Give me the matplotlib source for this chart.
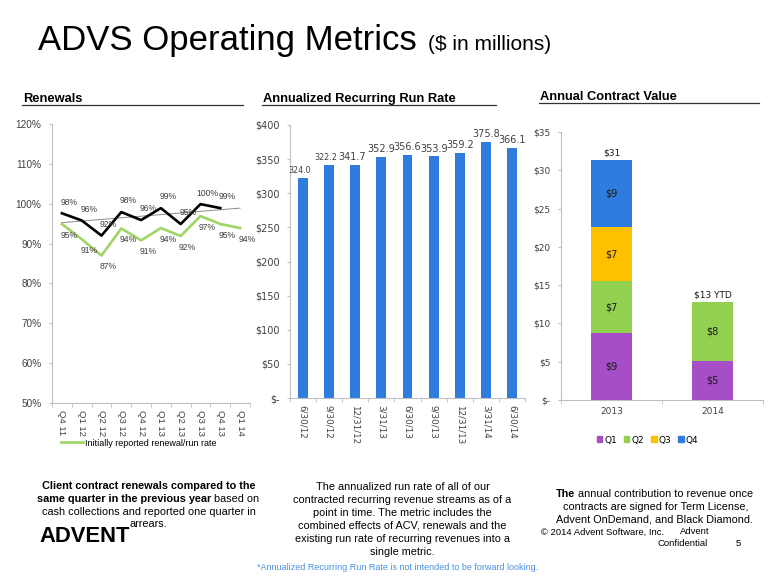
import matplotlib.pyplot as plt
import numpy as np
from matplotlib.lines import Line2D
from matplotlib.patches import Patch

plt.rcParams['font.family'] = ['Liberation Sans', 'DejaVu Sans']

# Renewals
quarters = ['Q4 11', 'Q1 12', 'Q2 12', 'Q3 12', 'Q4 12', 'Q1 13', 'Q2 13', 'Q3 13', 'Q4 13', 'Q1 14']
renewal_rate = [97.6, 95.8, 92.0, 97.9, 95.9, 98.9, 94.9, 99.9, 98.9]
renewal_labels = ['98%', '96%', '92%', '98%', '96%', '99%', '95%', '100%', '99%']
initial_rate = [94.9, 91.1, 87.0, 93.8, 90.8, 93.9, 91.9, 96.9, 94.9, 93.9]
initial_labels = ['95%', '91%', '87%', '94%', '91%', '94%', '92%', '97%', '95%', '94%']

# Annualized recurring run rate
run_dates = ['6/30/12', '9/30/12', '12/31/12', '3/31/13', '6/30/13', '9/30/13', '12/31/13', '3/31/14', '6/30/14']
run_rate = [322.2, 341.7, 341.7, 352.9, 356.6, 353.9, 359.2, 375.8, 366.1]
run_labels = ['324.0', '322.2', '341.7', '352.9', '356.6', '353.9', '359.2', '375.8', '366.1']

# Annual contract value
acv_years = ['2013', '2014']
acv_quarters = ['Q1', 'Q2', 'Q3', 'Q4']
acv_q1 = [8.7, 5.1]
acv_q2 = [6.8, 7.7]
acv_q3 = [7.1, 0.0]
acv_q4 = [8.7, 0.0]
acv_suffix = ['', ' YTD']

W, H = 780, 585
GRAY = '#404040'
SPINE = '#BFBFBF'
BLUE = '#2E7DDE'


def fx(x):
    return x / W


def fy(y):
    return 1 - y / H


def style_axes(ax):
    for s in ['top', 'right']:
        ax.spines[s].set_visible(False)
    for s in ['left', 'bottom']:
        ax.spines[s].set_color(SPINE)
        ax.spines[s].set_linewidth(0.8)
    ax.tick_params(axis='y', colors=SPINE, length=2.5, labelcolor=GRAY)
    ax.tick_params(axis='x', which='major', length=0, labelcolor=GRAY)
    ax.tick_params(axis='x', which='minor', length=3, color=SPINE)


fig = plt.figure(figsize=(7.8, 5.85), dpi=100)

# title
fig.text(fx(38), fy(50), 'ADVS Operating Metrics', fontsize=25, va='baseline')
fig.text(fx(428), fy(50), '($ in millions)', fontsize=15, va='baseline')

# section headers with underline
headers = [('Renewals', 23, 99, 243), ('Annualized Recurring Run Rate', 263, 99, 496),
           ('Annual Contract Value', 540, 97, 759)]
for txt, x0, yc, x1 in headers:
    fig.text(fx(x0), fy(yc), txt, fontsize=9.3, fontweight='bold', va='center')
    fig.add_artist(Line2D([fx(x0 - 1), fx(x1)], [fy(yc + 5.5)] * 2, color='#333333', lw=0.9))

# ---- Renewals line chart
ax1 = fig.add_axes([fx(52), fy(403), 198 / W, 279 / H])
x = np.arange(len(quarters))
xr = x[:len(renewal_rate)]
coef = np.polyfit(xr, renewal_rate, 1)
ax1.plot(x, np.polyval(coef, x), color='#8C8C8C', lw=0.7, zorder=2)
ax1.plot(xr, renewal_rate, color='black', lw=1.9, zorder=3)
green, = ax1.plot(x, initial_rate, color='#9FD466', lw=1.9, zorder=3,
                  label='Initially reported renewal/run rate')
for i, (v, t) in enumerate(zip(renewal_rate, renewal_labels)):
    ax1.annotate(t, (i, v), xytext=(5, 8), textcoords='offset points', ha='center', va='center',
                 fontsize=6.2, color=GRAY)
for i, (v, t) in enumerate(zip(initial_rate, initial_labels)):
    ax1.annotate(t, (i, v), xytext=(5, -8), textcoords='offset points', ha='center', va='center',
                 fontsize=6.2, color=GRAY)
ax1.set_xlim(-0.5, len(quarters) - 0.5)
ax1.set_ylim(50, 120)
ax1.set_yticks(range(50, 121, 10))
ax1.set_yticklabels([f'{v}%' for v in range(50, 121, 10)], fontsize=7.2)
ax1.set_xticks(x)
ax1.set_xticklabels(quarters, rotation=270, fontsize=6.8)
ax1.set_xticks(np.arange(-0.5, len(quarters)), minor=True)
style_axes(ax1)
ax1.tick_params(axis='y', pad=5)
ax1.tick_params(axis='x', which='major', pad=5)
ax1.legend(handles=[green], loc='center left', bbox_to_anchor=(fx(61), fy(443)),
           bbox_transform=fig.transFigure, frameon=False, fontsize=6.5, borderpad=0,
           borderaxespad=0, handlelength=2.4, handletextpad=0.3)

# ---- Run rate bar chart
ax2 = fig.add_axes([fx(289.6), fy(398), 235.8 / W, 273 / H])
xb = np.arange(len(run_dates))
ax2.bar(xb, run_rate, width=0.38, color=BLUE)
for i, (v, t) in enumerate(zip(run_rate, run_labels)):
    ax2.annotate(t, (i, v), xytext=(-2 if i < 3 else 0, 2), textcoords='offset points',
                 ha='center', va='bottom', fontsize=5.8 if i < 2 else 7,
                 color=GRAY, family='DejaVu Sans')
ax2.set_xlim(-0.5, len(run_dates) - 0.5)
ax2.set_ylim(0, 400)
ax2.set_yticks(range(0, 401, 50))
ax2.set_yticklabels(['$-'] + [f'${v}' for v in range(50, 401, 50)], fontsize=7, family='DejaVu Sans')
ax2.set_xticks(xb)
ax2.set_xticklabels(run_dates, rotation=270, fontsize=6.3, family='DejaVu Sans')
ax2.set_xticks(np.arange(-0.5, len(run_dates)), minor=True)
style_axes(ax2)
ax2.tick_params(axis='y', pad=4.5)
ax2.tick_params(axis='x', which='major', pad=5)

# ---- ACV stacked bar chart
ax3 = fig.add_axes([fx(561), fy(400), 202 / W, 268 / H])
xa = np.arange(len(acv_years))
bottom = np.zeros(len(acv_years))
colors = ['#A64DC8', '#92D050', '#FFC000', BLUE]
for vals, col, name in zip([acv_q1, acv_q2, acv_q3, acv_q4], colors, acv_quarters):
    vals = np.array(vals)
    ax3.bar(xa, vals, width=0.4, bottom=bottom, color=col, label=name)
    for i, v in enumerate(vals):
        if v > 0:
            ax3.text(i, bottom[i] + v / 2, f'${round(v)}', ha='center', va='center',
                     fontsize=7, color='#1A1A1A', family='DejaVu Sans')
    bottom += vals
for i, tot in enumerate(bottom):
    ax3.annotate(f'${round(tot)}{acv_suffix[i]}', (i, tot), xytext=(0, 2), textcoords='offset points',
                 ha='center', va='bottom', fontsize=6.5, color='#1A1A1A', family='DejaVu Sans')
ax3.set_xlim(-0.5, len(acv_years) - 0.5)
ax3.set_ylim(0, 35)
ax3.set_yticks(range(0, 36, 5))
ax3.set_yticklabels(['$-'] + [f'${v}' for v in range(5, 36, 5)], fontsize=6.5, family='DejaVu Sans')
ax3.set_xticks(xa)
ax3.set_xticklabels(acv_years, fontsize=6.5, family='DejaVu Sans')
ax3.set_xticks(np.arange(-0.5, len(acv_years)), minor=True)
style_axes(ax3)
ax3.tick_params(axis='y', pad=5)
ax3.tick_params(axis='x', which='major', pad=5)
handles = [Patch(color=c, label=q) for c, q in zip(colors, acv_quarters)]
ax3.legend(handles=handles, loc='center', bbox_to_anchor=(fx(647.5), fy(440)),
           bbox_transform=fig.transFigure, ncol=4, frameon=False,
           handlelength=0.6, handleheight=0.6, handletextpad=0.2, columnspacing=0.8,
           borderpad=0, borderaxespad=0, prop={'family': 'DejaVu Sans', 'size': 6.5})

# ---- bottom text
fs = 7.8
fig.text(fx(149), fy(485.7), 'Client contract renewals compared to the', fontsize=fs,
         fontweight='bold', ha='center', va='center')
fig.text(fx(211), fy(498.7), 'same quarter in the previous year', fontsize=fs,
         fontweight='bold', ha='right', va='center')
fig.text(fx(211), fy(498.7), ' based on', fontsize=fs, ha='left', va='center')
fig.text(fx(149), fy(512), 'cash collections and reported one quarter in', fontsize=fs,
         ha='center', va='center')
fig.text(fx(148.5), fy(524), 'arrears.', fontsize=fs, ha='center', va='center')
fig.text(fx(39), fy(537), 'ADVENT', fontsize=15.8, fontweight='bold', va='center')

mid_lines = ['The annualized run rate of all of our',
             'contracted recurring revenue streams as of a',
             'point in time. The metric includes the',
             'combined effects of ACV, renewals and the',
             'existing run rate of recurring revenues into a',
             'single metric.']
for k, line in enumerate(mid_lines):
    fig.text(fx(402.5), fy(486.7 + k * 13), line, fontsize=fs, ha='center', va='center')

fig.text(fx(575), fy(494), 'The', fontsize=fs, fontweight='bold', ha='right', va='center')
fig.text(fx(575), fy(494), ' annual contribution to revenue once', fontsize=fs, ha='left', va='center')
fig.text(fx(656), fy(507), 'contracts are signed for Term License,', fontsize=fs, ha='center', va='center')
fig.text(fx(655), fy(520), 'Advent OnDemand, and Black Diamond.', fontsize=fs, ha='center', va='center')
fig.text(fx(541), fy(532), '\u00a9 2014 Advent Software, Inc.', fontsize=6.8, va='center')
fig.text(fx(680), fy(532), 'Advent', fontsize=6.8, va='center')
fig.text(fx(658), fy(543), 'Confidential', fontsize=6.8, va='center')
fig.text(fx(736), fy(543), '5', fontsize=6.8, va='center')

fig.text(fx(397.5), fy(567.5), '*Annualized Recurring Run Rate is not intended to be forward looking.',
         fontsize=6.5, color='#4A90E2', ha='center', va='center')

fig.savefig('out.png', dpi=100)
